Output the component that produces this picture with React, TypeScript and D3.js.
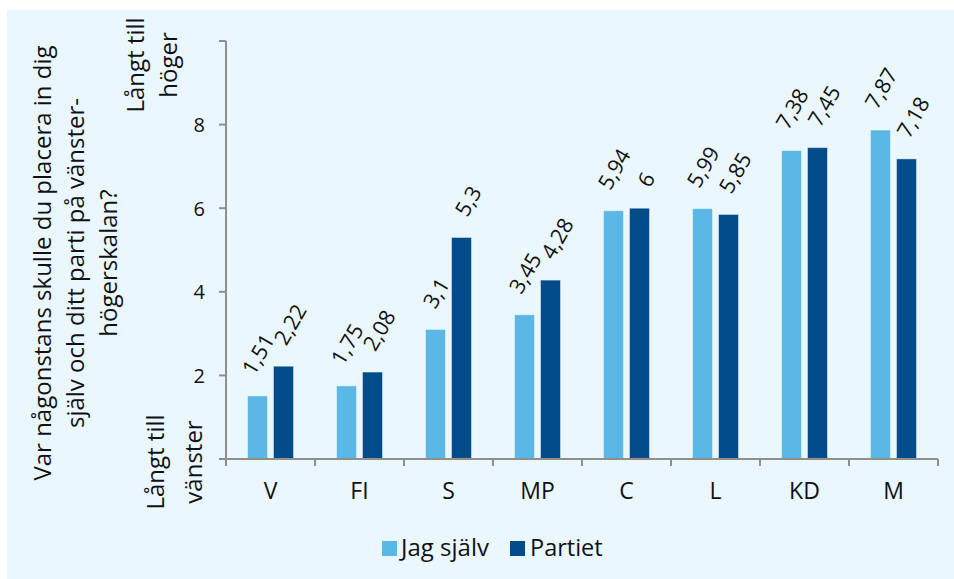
import React from "react";
import * as d3 from "d3";

const categories = ["V", "FI", "S", "MP", "C", "L", "KD", "M"];
const seriesNames = ["Jag själv", "Partiet"];
const jagSjalv = [1.51, 1.75, 3.1, 3.45, 5.94, 5.99, 7.38, 7.87];
const partiet = [2.22, 2.08, 5.3, 4.28, 6, 5.85, 7.45, 7.18];
const labelsJag = ["1,51", "1,75", "3,1", "3,45", "5,94", "5,99", "7,38", "7,87"];
const labelsPartiet = ["2,22", "2,08", "5,3", "4,28", "6", "5,85", "7,45", "7,18"];
const yTicks = [0, 2, 4, 6, 8, 10];
const yTickLabels = ["", "2", "4", "6", "8", ""];
const titleLines = ["Var någonstans skulle du placera in dig", "själv och ditt parti på vänster-", "högerskalan?"];
const topLabel = ["Långt till", "höger"];
const bottomLabel = ["Långt till", "vänster"];

const W = 954;
const H = 579;
const FONT = "'Open Sans', 'Noto Sans', sans-serif";
const colors = ["#5BB8E6", "#004C8A"];

function textLen(s: string, fs: number) {
  let w = 0;
  for (const c of s) w += c === "," ? 0.26 : 0.57;
  return w * fs;
}

export default function App() {
  const x = d3.scaleBand().domain(categories).range([226, 938]).paddingInner(0).paddingOuter(0);
  const x1 = d3.scaleBand().domain(seriesNames).range([-23, 23]).paddingInner(0.23);
  const y = d3.scaleLinear().domain([0, 10]).range([459, 41]);
  const series = [jagSjalv, partiet];
  const labels = [labelsJag, labelsPartiet];
  const axisColor = "#8f8f8f";
  const vfs = 21.5;

  return (
    <svg width={W} height={H} style={{ position: "absolute", left: 0, top: 0, fontFamily: FONT }}>
      <rect x={0} y={0} width={W} height={H} fill="#ffffff" />
      <rect x={7} y={10} width={W - 7} height={H - 10} fill="#EBF7FE" />

      {/* bars */}
      {series.map((vals, si) =>
        vals.map((v, i) => {
          const bx = (x(categories[i]) as number) + x.bandwidth() / 2 + (x1(seriesNames[si]) as number);
          const bw = x1.bandwidth();
          const top = y(v);
          return (
            <rect key={`b${si}-${i}`} x={bx} y={top} width={bw} height={y(0) - top}
              fill={colors[si]} stroke="#ffffff" strokeOpacity={0.45} strokeWidth={1} />
          );
        })
      )}

      {/* value labels */}
      {series.map((vals, si) =>
        vals.map((v, i) => {
          const cx = (x(categories[i]) as number) + x.bandwidth() / 2 + (x1(seriesNames[si]) as number) + x1.bandwidth() / 2 + (si === 1 ? 6 : 0);
          const L = textLen(labels[si][i], vfs);
          const bh = 0.866 * L + 0.5 * 15;
          const cy = y(v) - 20 - bh / 2;
          return (
            <text key={`l${si}-${i}`} x={0} y={0} transform={`translate(${cx},${cy}) rotate(-60)`}
              textAnchor="middle" dominantBaseline="central" fontSize={vfs} fill="#111">
              {labels[si][i]}
            </text>
          );
        })
      )}

      {/* y axis */}
      <line x1={226} x2={226} y1={y(10)} y2={y(0)} stroke={axisColor} strokeWidth={2} />
      {yTicks.map((t, i) => (
        <g key={`yt${i}`}>
          <line x1={219} x2={226} y1={y(t)} y2={y(t)} stroke={axisColor} strokeWidth={2} />
          <text x={205} y={y(t)} textAnchor="end" dominantBaseline="central" fontSize={20} fill="#111">
            {yTickLabels[i]}
          </text>
        </g>
      ))}

      {/* x axis */}
      <line x1={219} x2={938} y1={y(0)} y2={y(0)} stroke={axisColor} strokeWidth={2} />
      {categories.map((c, i) => (
        <line key={`xt${i}`} x1={(x(c) as number)} x2={(x(c) as number)} y1={y(0)} y2={y(0) + 7} stroke={axisColor} strokeWidth={2} />
      ))}
      <line x1={938} x2={938} y1={y(0)} y2={y(0) + 7} stroke={axisColor} strokeWidth={2} />
      {categories.map((c, i) => (
        <text key={`xl${i}`} x={(x(c) as number) + x.bandwidth() / 2} y={499} textAnchor="middle" fontSize={23} fill="#111">
          {c}
        </text>
      ))}

      {/* axis title */}
      {titleLines.map((t, i) => (
        <text key={`t${i}`} x={0} y={0} transform={`translate(${51 + i * 33},263) rotate(-90)`} textAnchor="middle" fontSize={24} fill="#111">
          {t}
        </text>
      ))}
      {topLabel.map((t, i) => (
        <text key={`tl${i}`} transform={`translate(${144 + i * 33},65) rotate(-90)`} textAnchor="middle" fontSize={24} fill="#111">
          {t}
        </text>
      ))}
      {bottomLabel.map((t, i) => (
        <text key={`bl${i}`} transform={`translate(${164 + i * 38},462) rotate(-90)`} textAnchor="middle" fontSize={24} fill="#111">
          {t}
        </text>
      ))}

      {/* legend */}
      <rect x={382} y={541} width={15} height={15} fill={colors[0]} />
      <text x={401} y={556} fontSize={24} fill="#111">{seriesNames[0]}</text>
      <rect x={510} y={541} width={15} height={15} fill={colors[1]} />
      <text x={530} y={556} fontSize={23.5} fill="#111">{seriesNames[1]}</text>
    </svg>
  );
}
